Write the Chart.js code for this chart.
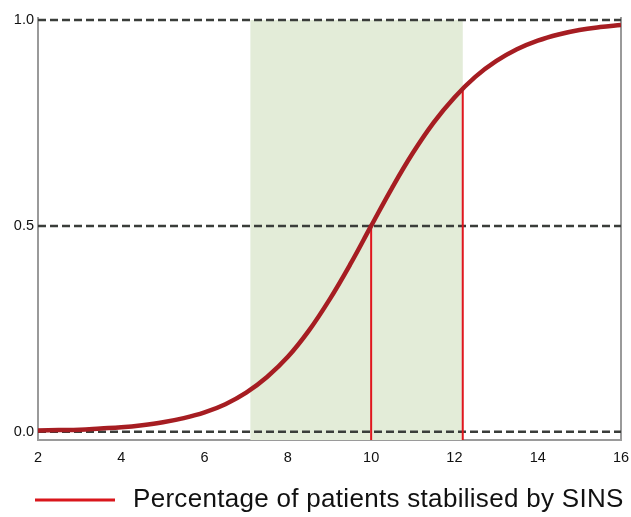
<!DOCTYPE html>
<html>
<head>
<meta charset="utf-8">
<script src="https://cdn.jsdelivr.net/npm/chart.js@4.4.1/dist/chart.umd.min.js"></script>
<style>
  html, body { margin: 0; padding: 0; background: #ffffff; }
  #wrap { width: 631px; height: 517px; }
</style>
</head>
<body>
<div id="wrap"><canvas id="c" width="631" height="517"></canvas></div>
<script>
// SINS score on the x axis
const sinsScore = [2, 2.5, 3, 3.5, 4, 4.5, 5, 5.5, 6, 6.5, 7, 7.5, 8, 8.5, 9, 9.5,
                   10, 10.5, 11, 11.5, 12, 12.5, 13, 13.5, 14, 14.5, 15, 15.5, 16];
// share of patients stabilised at each score
const stabilisedShare = [0.003, 0.004, 0.005, 0.008, 0.011, 0.016, 0.023, 0.033, 0.047, 0.067, 0.095, 0.133,
                         0.182, 0.245, 0.321, 0.407, 0.500, 0.592, 0.677, 0.751, 0.812, 0.862, 0.900,
                         0.929, 0.950, 0.965, 0.976, 0.983, 0.988];
// dashed reference levels
const guideLevels = [0, 0.5, 1.0];
// highlighted score band
const bandRange = [7.1, 12.2];
// vertical markers: score and the share reached there
const markerScore = [10, 12.2];
const markerShare = [0.5, 0.832];
// axis ticks
const xTicks = [2, 4, 6, 8, 10, 12, 14, 16];
const yTicks = [0, 0.5, 1.0];
const yMin = -0.02;
const seriesLabel = 'Percentage of patients stabilised by SINS';

const FONT = 'Liberation Sans, Arial, Helvetica, sans-serif';

const curve = {
  label: seriesLabel,
  data: sinsScore.map((x, i) => ({ x, y: stabilisedShare[i] })),
  borderColor: '#a61d22',
  backgroundColor: '#a61d22',
  borderWidth: 4.5,
  pointRadius: 0,
  tension: 0.4,
  fill: false
};

const markers = markerScore.map((x, i) => ({
  label: 'marker' + i,
  data: [{ x, y: yMin }, { x, y: markerShare[i] }],
  borderColor: '#e0161e',
  borderWidth: 2,
  pointRadius: 0,
  fill: false
}));

const guides = guideLevels.map((y, i) => ({
  label: 'guide' + i,
  data: [{ x: sinsScore[0], y }, { x: sinsScore[sinsScore.length - 1], y }],
  borderColor: '#3a3d3a',
  borderWidth: 2.5,
  borderDash: [8, 4],
  pointRadius: 0,
  fill: false
}));

// light green band behind the data
const bandPlugin = {
  id: 'band',
  beforeDatasetsDraw(chart) {
    const { ctx, chartArea, scales } = chart;
    const x0 = scales.x.getPixelForValue(bandRange[0]);
    const x1 = scales.x.getPixelForValue(bandRange[1]);
    const yTop = scales.y.getPixelForValue(1.0);
    ctx.save();
    ctx.fillStyle = '#e3ecd8';
    ctx.fillRect(x0, yTop, x1 - x0, chartArea.bottom - yTop);
    ctx.restore();
  }
};

// legend row under the axis: red line sample followed by the series name
const legendPlugin = {
  id: 'legendRow',
  afterDraw(chart) {
    const { ctx } = chart;
    const y = 500;
    ctx.save();
    ctx.strokeStyle = '#d9161c';
    ctx.lineWidth = 3;
    ctx.beginPath();
    ctx.moveTo(35, y);
    ctx.lineTo(115, y);
    ctx.stroke();
    ctx.fillStyle = '#111111';
    ctx.font = '26px ' + FONT;
    if ('letterSpacing' in ctx) ctx.letterSpacing = '0.3px';
    ctx.textBaseline = 'middle';
    ctx.textAlign = 'left';
    ctx.fillText(seriesLabel, 133, y);
    ctx.restore();
  }
};

new Chart(document.getElementById('c'), {
  type: 'line',
  data: { datasets: [curve, ...markers, ...guides] },
  options: {
    responsive: false,
    animation: false,
    layout: { padding: { top: 18, right: 9, left: 0, bottom: 44 } },
    plugins: {
      tooltip: { enabled: false },
      legend: { display: false }
    },
    scales: {
      x: {
        type: 'linear',
        min: 2,
        max: 16,
        afterBuildTicks: s => { s.ticks = xTicks.map(v => ({ value: v })); },
        afterFit: s => { s.height = 33; s.paddingLeft = 0; s.paddingRight = 0; },
        ticks: {
          color: '#111111',
          font: { family: FONT, size: 14.5 },
          padding: 9,
          maxRotation: 0,
          callback: v => String(v)
        },
        grid: { display: false, drawTicks: false },
        border: { display: true, color: '#9a9a9a', width: 2 }
      },
      y: {
        type: 'linear',
        min: yMin,
        max: 1.005,
        afterBuildTicks: s => { s.ticks = yTicks.map(v => ({ value: v })); },
        afterFit: s => { s.width = 38; s.paddingTop = 0; s.paddingBottom = 0; },
        ticks: {
          color: '#111111',
          font: { family: FONT, size: 14.5 },
          padding: 4,
          callback: v => Number(v).toFixed(1)
        },
        grid: { display: false, drawTicks: false },
        border: { display: true, color: '#9a9a9a', width: 2 }
      },
      yRight: {
        type: 'linear',
        position: 'right',
        min: yMin,
        max: 1.005,
        ticks: { display: false },
        grid: { display: false, drawTicks: false },
        border: { display: true, color: '#9a9a9a', width: 2 },
        afterFit: s => { s.width = 1; }
      }
    }
  },
  plugins: [bandPlugin, legendPlugin]
});
</script>
</body>
</html>
